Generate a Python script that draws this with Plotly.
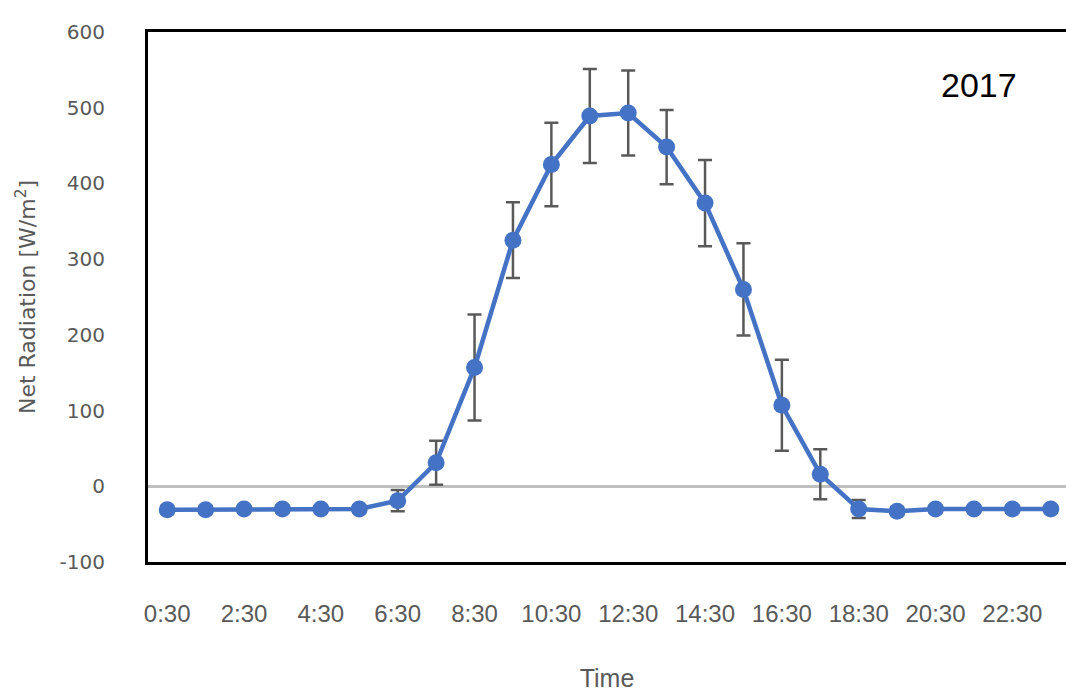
import plotly.graph_objects as go

times = ["0:30", "1:30", "2:30", "3:30", "4:30", "5:30", "6:30", "7:30",
         "8:30", "9:30", "10:30", "11:30", "12:30", "13:30", "14:30", "15:30",
         "16:30", "17:30", "18:30", "19:30", "20:30", "21:30", "22:30", "23:30"]
net_radiation = [-31, -31, -30, -30, -30, -30, -19, 31, 157, 325, 425, 489,
                 493, 448, 374, 260, 107, 16, -30, -33, -30, -30, -30, -30]
std_error = [5, 5, 5, 5, 5, 5, 14, 29, 70, 50, 55, 62,
             56, 49, 57, 61, 60, 33, 12, 5, 5, 5, 5, 5]
tick_labels = ["0:30", "2:30", "4:30", "6:30", "8:30", "10:30",
               "12:30", "14:30", "16:30", "18:30", "20:30", "22:30"]
y_ticks = [-100, 0, 100, 200, 300, 400, 500, 600]
y_tick_text = ["-100", "0", "100", "200", "300", "400", "500", "600"]

gray = "#595959"
blue = "#4472C4"

fig = go.Figure()
fig.add_trace(go.Scatter(
    x=times, y=net_radiation,
    mode="lines+markers",
    line=dict(color=blue, width=4.5),
    marker=dict(color=blue, size=17),
    error_y=dict(type="data", array=std_error, visible=True,
                 color=gray, thickness=2.5, width=7),
    showlegend=False,
))

fig.update_layout(
    width=1066, height=692,
    margin=dict(l=148, r=0, t=32, b=130),
    paper_bgcolor="white", plot_bgcolor="white",
    font=dict(family="DejaVu Sans", color=gray),
    xaxis=dict(
        type="category",
        categoryorder="array", categoryarray=times,
        range=[-0.5, 23.396],
        tickmode="array", tickvals=tick_labels, ticktext=tick_labels,
        tickfont=dict(family="Liberation Sans", size=24, color=gray),
        ticks="", ticklabelstandoff=28,
        showgrid=False, zeroline=False,
        showline=True, linecolor="black", linewidth=3, mirror=True,
        title=dict(text="Time", font=dict(family="Liberation Sans", size=25, color=gray),
                   standoff=44),
    ),
    yaxis=dict(
        range=[-100, 600],
        tickmode="array", tickvals=y_ticks, ticktext=y_tick_text,
        tickfont=dict(family="DejaVu Sans", size=20, color=gray),
        ticks="", ticklabelstandoff=36,
        showgrid=False,
        zeroline=True, zerolinecolor="#bfbfbf", zerolinewidth=2.5,
        showline=True, linecolor="black", linewidth=3, mirror=False,
        title=dict(text="Net Radiation [W/m<sup>2</sup>]",
                   font=dict(family="DejaVu Sans", size=22, color=gray),
                   standoff=18),
    ),
    annotations=[dict(
        text="2017", x=0.905, y=0.9, xref="paper", yref="paper",
        xanchor="center", yanchor="middle", showarrow=False,
        font=dict(family="Liberation Sans", size=34, color="black"),
    )],
)

fig.write_html("out.html")
